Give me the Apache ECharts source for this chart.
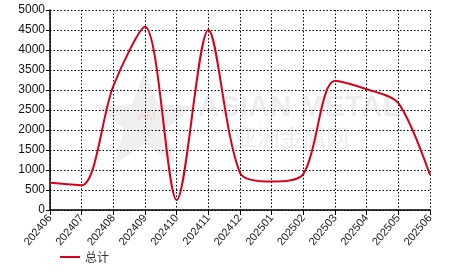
<!DOCTYPE html>
<html><head><meta charset="utf-8">
<script src="https://cdn.jsdelivr.net/npm/echarts@6/dist/echarts.min.js"></script>
<style>html,body{margin:0;padding:0;background:#fff}#c{width:466px;height:272px}</style>
</head><body><div id="c"></div>
<script>
const categories = ['202406','202407','202408','202409','202410','202411','202412','202501','202502','202503','202504','202505','202506'];
const totalValues = [680, 620, 3100, 4580, 250, 4500, 930, 710, 900, 3230, 3020, 2670, 875];
const seriesName = '总计';
const yMin = 0, yMax = 5000, yStep = 500;

const chart = echarts.init(document.getElementById('c'));
chart.setOption({
  animation: false,
  backgroundColor: '#fff',
  grid: { left: 50, right: 36, top: 10, bottom: 62, containLabel: false },
  graphic: [
    { type: 'polygon', silent: true, z: -10,
      shape: { points: (function(){ const p=[]; for(let i=0;i<10;i++){ const r = i%2===0?52:22; const a = -Math.PI/2 + i*Math.PI/5; p.push([145+r*Math.cos(a), 122+r*Math.sin(a)]);} return p; })() },
      style: { fill: '#efefef' } },
    { type: 'text', silent: true, z: -10, left: 138, top: 111, style: { text: 'AM', fill: '#f8d4d4', font: '12px Arial' } },
    { type: 'text', silent: true, z: -10, left: 198, top: 93, style: { text: 'ASIAN METAL', fill: '#ededed', font: 'bold 30px "Liberation Sans", Arial' } },
    { type: 'text', silent: true, z: -10, left: 234, top: 126, style: { text: '亚洲金属网', fill: '#ededed', font: '23px "Noto Sans CJK SC"' } }
  ],
  legend: {
    left: 55, bottom: 4, itemWidth: 20, itemHeight: 10, icon: 'path://M0,4h20v2h-20z',
    textStyle: { fontSize: 12, color: '#333', fontFamily: '"Noto Sans CJK SC"' },
    data: [seriesName]
  },
  xAxis: {
    type: 'category', data: categories, boundaryGap: false,
    axisLine: { lineStyle: { color: '#000', width: 1.5 } },
    axisTick: { show: true, length: 5, lineStyle: { color: '#000' } },
    axisLabel: { rotate: 50, color: '#222', fontSize: 11, fontFamily: 'Arial', margin: 6, interval: 0 },
    splitLine: { show: true, lineStyle: { color: '#000', type: [1.5, 2], width: 1 } }
  },
  yAxis: {
    type: 'value', min: yMin, max: yMax, interval: yStep,
    axisLine: { show: true, lineStyle: { color: '#000', width: 1.5 } },
    axisTick: { show: true, length: 4, lineStyle: { color: '#000' } },
    axisLabel: { color: '#111', fontSize: 12, fontFamily: 'Arial', margin: 5, formatter: function(v){ return String(v); } },
    splitLine: { show: true, lineStyle: { color: '#000', type: [1.5, 2], width: 1 } }
  },
  series: [{
    name: seriesName, type: 'line', data: totalValues, smooth: 0.3,
    showSymbol: false, symbol: 'none', z: 5,
    lineStyle: { color: '#d6001c', width: 2 }, itemStyle: { color: '#d6001c' }
  }]
});
</script></body></html>
